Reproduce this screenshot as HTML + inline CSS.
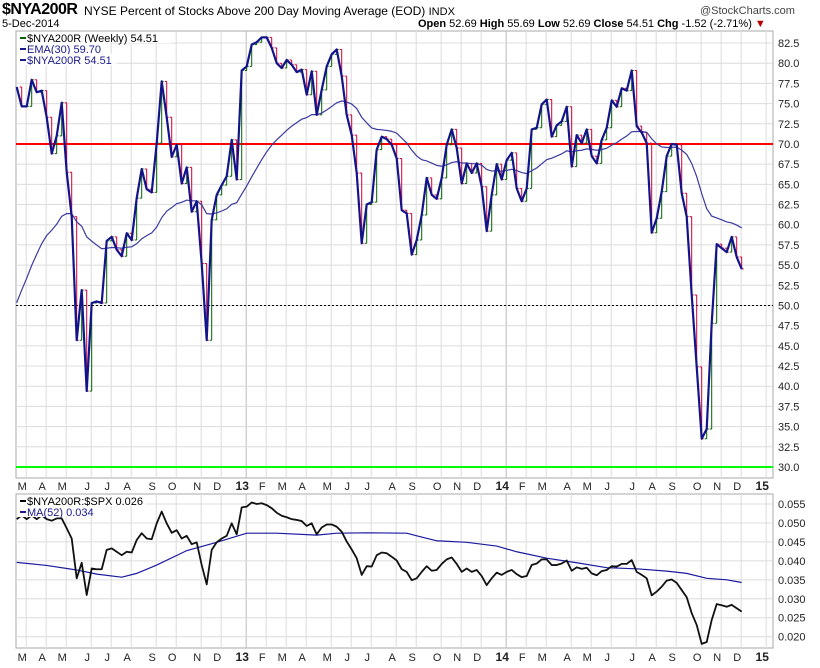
<!DOCTYPE html>
<html><head><meta charset="utf-8">
<style>
body{margin:0;background:#fff;font-family:"Liberation Sans",sans-serif;}
#wrap{position:relative;width:820px;height:668px;overflow:hidden;background:#fff;}
.t{position:absolute;white-space:nowrap;color:#000;}
</style></head>
<body>
<div id="wrap">
<div class="t" style="left:2px;top:1px;font-size:16px;font-weight:bold;letter-spacing:-0.5px">$NYA200R</div>
<div class="t" style="left:84px;top:4px;font-size:12px">NYSE Percent of Stocks Above 200 Day Moving Average (EOD) <span style="font-size:11px">INDX</span></div>
<div class="t" style="left:700px;top:5px;font-size:11px;color:#444">@StockCharts.com</div>
<div class="t" style="left:2px;top:18px;font-size:11px">5-Dec-2014</div>
<div class="t" style="left:418px;top:18px;font-size:11px"><b>Open</b> 52.69 <b>High</b> 55.69 <b>Low</b> 52.69 <b>Close</b> 54.51 <b>Chg</b> -1.52 (-2.71%) <span style="color:#b00">▼</span></div>
<svg id="svg" width="820" height="668" style="position:absolute;left:0;top:0"></svg>
</div>
<script>
// Main series: weekly close of $NYA200R
const closes=[77.05,74.65,74.65,77.95,76.4,76.6,73.3,68.8,71.0,75.1,66.5,61.0,45.7,51.9,39.4,50.3,50.5,50.3,58.0,58.5,56.9,56.1,58.95,58.1,63.3,66.9,64.4,64.0,70.1,77.75,73.3,68.4,69.9,65.1,67.1,61.6,62.9,55.2,45.7,60.6,63.7,64.9,66.0,70.5,65.6,79.1,79.6,82.3,82.6,83.2,83.2,81.9,80.0,79.4,80.4,79.8,78.9,79.2,76.1,79.0,73.6,76.7,79.6,81.1,81.7,78.4,73.6,71.1,66.4,57.7,62.5,62.8,69.3,70.9,70.6,69.9,68.2,61.8,61.4,56.3,58.1,61.2,65.8,63.7,63.2,65.8,69.9,71.8,69.5,65.1,67.6,66.4,67.6,64.7,59.2,63.7,67.5,65.6,68.0,68.9,64.5,62.9,64.5,71.8,72.0,74.9,75.5,70.9,72.3,72.8,74.6,67.2,71.1,70.1,71.8,68.5,67.6,70.5,72.0,75.4,74.6,76.9,76.6,79.1,72.2,71.4,70.1,59.0,60.8,64.1,68.5,70.0,69.9,63.9,61.0,51.3,42.4,33.5,34.7,47.8,57.6,57.1,56.6,58.5,56.0,54.51];
const emaSeed=48.5;
// Lower panel: $NYA200R:$SPX ratio
const ratio=[0.051,0.052,0.051,0.052,0.051,0.052,0.0510,0.0506,0.0512,0.0512,0.0486,0.0459,0.0354,0.0395,0.0310,0.0380,0.0378,0.0378,0.0429,0.0433,0.0424,0.0415,0.0424,0.0422,0.0455,0.0473,0.0459,0.0457,0.0499,0.0530,0.0499,0.0474,0.0481,0.0459,0.0466,0.0444,0.0449,0.0389,0.0338,0.0429,0.0449,0.0459,0.0466,0.0499,0.0470,0.0541,0.0543,0.0554,0.0550,0.0552,0.0547,0.0539,0.0527,0.0519,0.0515,0.0510,0.0508,0.0505,0.0492,0.0499,0.0470,0.0488,0.0496,0.0496,0.0490,0.0477,0.0451,0.0430,0.0407,0.0363,0.0386,0.0385,0.0415,0.0422,0.0420,0.0411,0.0401,0.0378,0.0371,0.0349,0.0354,0.0371,0.0386,0.0374,0.0376,0.0392,0.0404,0.0409,0.0392,0.0371,0.0380,0.0371,0.0376,0.0360,0.0336,0.0354,0.0369,0.0363,0.0371,0.0376,0.0365,0.0357,0.0360,0.0389,0.0393,0.0404,0.0404,0.0389,0.0389,0.0393,0.0401,0.0374,0.0383,0.0379,0.0382,0.0367,0.0362,0.0373,0.0376,0.0386,0.0385,0.0392,0.0392,0.0402,0.0371,0.0363,0.0354,0.0309,0.0319,0.0332,0.0348,0.0351,0.0342,0.0323,0.0304,0.0262,0.0231,0.0181,0.0186,0.0244,0.0286,0.0283,0.0279,0.0284,0.0275,0.0266];
const maWeeks=[0,6,12,16,21,24,28,34,40,46,52,60,64,70,78,80,84,90,96,100,106,112,118,124,130,134,138,142,145];
const maValues=[0.0396,0.0388,0.0376,0.0365,0.0357,0.0367,0.0389,0.0427,0.0449,0.0473,0.0473,0.0468,0.0473,0.0474,0.0473,0.0466,0.0453,0.0449,0.0439,0.0424,0.0407,0.0395,0.0382,0.0379,0.0373,0.0367,0.0354,0.0350,0.0343];
const monthLabels=["M","A","M","J","J","A","S","O","N","D","13","F","M","A","M","J","J","A","S","O","N","D","14","F","M","A","M","J","J","A","S","O","N","D","15"];
const monthWeeks=[2,6,10,15,19,23,28,32,37,41,46,50,54,58,63,67,71,76,80,85,89,93,98,102,106,111,115,119,124,128,132,137,141,145,150];
const mainTicks=[30,32.5,35,37.5,40,42.5,45,47.5,50,52.5,55,57.5,60,62.5,65,67.5,70,72.5,75,77.5,80,82.5];
const lowTicks=[0.020,0.025,0.030,0.035,0.040,0.045,0.050,0.055];

const NS="http://www.w3.org/2000/svg";
const svg=document.getElementById('svg');
const L=16,R=773,MT=31,MB=478,LT=494,LB=648;
const N=closes.length;
function x(i){return 741.7-5*(N-1-i);}
function yM(v){return 467-(v-30)*(424/52.5);}
function yL(v){return 636.7-(v-0.020)*(132.7/0.035);}
function mk(tag,attrs,parent){const e=document.createElementNS(NS,tag);for(const k in attrs)e.setAttribute(k,attrs[k]);(parent||svg).appendChild(e);return e;}

let e=mk('rect',{x:L,y:MT,width:R-L,height:MB-MT,fill:'#fff',stroke:'#aaa'});


e=mk('rect',{x:L,y:LT,width:R-L,height:LB-LT,fill:'#fff',stroke:'#aaa'});



monthWeeks.forEach((w,k)=>{
  const gx=x(w)-0.5;
  const strong=(monthLabels[k]==="13"||monthLabels[k]==="14");
  [[MT,MB],[LT,LB]].forEach(p=>{
    const g=mk('line',{x1:gx,x2:gx,y1:p[0],y2:p[1],stroke:strong?'#bbb':'#dcdcdc','stroke-width':1});
    
    
  });
  [490,661].forEach(ty=>{
    const big=strong||monthLabels[k]==="15";
    const t=mk('text',{x:gx-4,y:ty,'text-anchor':'middle','font-size':big?12:11,'font-weight':big?'bold':'normal','font-family':'Liberation Sans, sans-serif',fill:'#222'});
    t.textContent=monthLabels[k];
    
    
  });
});
mainTicks.forEach(v=>{
  const g=mk('line',{x1:L,x2:R,y1:yM(v),y2:yM(v),stroke:'#dcdcdc'});
  
  
  const t=mk('text',{x:778,y:yM(v)+4,'font-size':11,'font-family':'Liberation Sans, sans-serif',fill:'#222'});
  t.textContent=v.toFixed(1);
  
  
});
lowTicks.forEach(v=>{
  const g=mk('line',{x1:L,x2:R,y1:yL(v),y2:yL(v),stroke:'#dcdcdc'});
  
  
  const t=mk('text',{x:778,y:yL(v)+4,'font-size':11,'font-family':'Liberation Sans, sans-serif',fill:'#222'});
  t.textContent=v.toFixed(3);
  
  
});
e=mk('line',{x1:L,x2:R,y1:yM(50),y2:yM(50),stroke:'#000','stroke-dasharray':'2,2'});


e=mk('line',{x1:L,x2:R,y1:yM(70),y2:yM(70),stroke:'#f00','stroke-width':2});


e=mk('line',{x1:L,x2:R,y1:yM(30),y2:yM(30),stroke:'#0f0','stroke-width':2});



for(let i=1;i<N;i++){
  const p=closes[i-1],c=closes[i];
  const col=c>=p?'#006400':'#d0003a';
  const hi=Math.max(p,c),lo=Math.min(p,c);
  const b=mk('path',{d:`M${x(i)-2},${yM(p)}H${x(i)}M${x(i)},${yM(hi)}V${yM(lo)}M${x(i)},${yM(c)}H${x(i)+2}`,stroke:col,'stroke-width':1,fill:'none'});
  
  
}
let ema=emaSeed,pts=[];
const a=2/31;
for(let i=0;i<N;i++){ema=ema+a*(closes[i]-ema);pts.push(x(i)+','+yM(ema));}
e=mk('polyline',{points:pts.join(' '),fill:'none',stroke:'#3a3aa0','stroke-width':1.2});


e=mk('polyline',{points:closes.map((v,i)=>x(i)+','+yM(v)).join(' '),fill:'none',stroke:'#14148a','stroke-width':2.2,'stroke-linejoin':'round'});


e=mk('polyline',{points:maWeeks.map((w,k)=>x(w)+','+yL(maValues[k])).join(' '),fill:'none',stroke:'#1a1aa0','stroke-width':1.2});


e=mk('polyline',{points:ratio.map((v,i)=>x(i)+','+yL(v)).join(' '),fill:'none',stroke:'#111','stroke-width':1.8,'stroke-linejoin':'round'});



function legend(y0,lines,name){
  const g=mk('g',{});
  
  
  lines.forEach((l,k)=>{
    mk('rect',{x:L+1,y:y0+k*11,width:l[0].length*6.1+14,height:11,fill:'#fff'},g);
    mk('line',{x1:L+4,x2:L+10,y1:y0+6+k*11,y2:y0+6+k*11,stroke:l[1],'stroke-width':2},g);
    const t=mk('text',{x:L+11,y:y0+10+k*11,'font-size':11,'font-family':'Liberation Sans, sans-serif',fill:l[2]},g);
    t.textContent=l[0];
    
    
  });
}
legend(MT+1,[["$NYA200R (Weekly) 54.51","#006400","#000"],["EMA(30) 59.70","#1a1a8c","#1a1a8c"],["$NYA200R 54.51","#1a1a8c","#1a1a8c"]],'main-legend');
legend(LT+1,[["$NYA200R:$SPX 0.026","#000","#000"],["MA(52) 0.034","#1a1a8c","#1a1a8c"]],'ratio-legend');
</script>
</body></html>
